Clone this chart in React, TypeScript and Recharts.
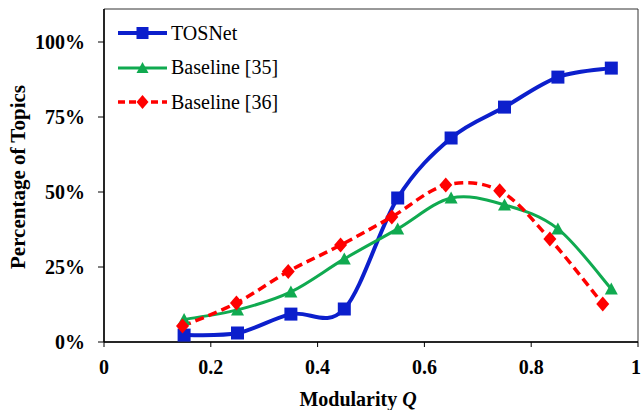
import React from "react";
import {
  LineChart,
  Line,
  XAxis,
  YAxis,
  Legend,
  Label,
  ReferenceArea,
} from "recharts";

// Modularity Q for each measured point
const tosnetQ = [0.15, 0.25, 0.35, 0.45, 0.55, 0.65, 0.75, 0.85, 0.95];
const base35Q = [0.15, 0.25, 0.35, 0.45, 0.55, 0.65, 0.75, 0.85, 0.95];
const base36Q = [0.147, 0.248, 0.345, 0.443, 0.539, 0.64, 0.741, 0.835, 0.934];

// percentage of topics (%)
const tosnetPct = [2.3, 3, 9.3, 11, 48, 68, 78.3, 88.3, 91.3];
const base35Pct = [7.5, 10.7, 16.7, 27.7, 37.7, 48, 45.7, 37.7, 17.7];
const base36Pct = [5.3, 13, 23.5, 32.3, 41.7, 52.3, 50.4, 34.3, 12.7];

const xTicks = [0, 0.2, 0.4, 0.6, 0.8, 1];
const yTicks = [0, 25, 50, 75, 100];

const BLUE = "#0C1FCC";
const GREEN = "#10AA50";
const RED = "#FF0000";
const SERIF = "Liberation Serif, DejaVu Serif, serif";

const toRows = (qs: number[], vs: number[]) => qs.map((q, i) => ({ q, v: vs[i] }));

// Excel-like smoothed line (Catmull-Rom through every point)
function smoothCurve(context: any) {
  let pts: number[][] = [];
  return {
    areaStart() {},
    areaEnd() {},
    lineStart() {
      pts = [];
    },
    point(x: number, y: number) {
      pts.push([+x, +y]);
    },
    lineEnd() {
      const n = pts.length;
      if (!n) return;
      context.moveTo(pts[0][0], pts[0][1]);
      for (let i = 0; i < n - 1; i++) {
        const p0 = pts[Math.max(i - 1, 0)];
        const p1 = pts[i];
        const p2 = pts[i + 1];
        const p3 = pts[Math.min(i + 2, n - 1)];
        context.bezierCurveTo(
          p1[0] + (p2[0] - p0[0]) / 6,
          p1[1] + (p2[1] - p0[1]) / 6,
          p2[0] - (p3[0] - p1[0]) / 6,
          p2[1] - (p3[1] - p1[1]) / 6,
          p2[0],
          p2[1]
        );
      }
    },
  };
}

const squareDot = (p: any) => (
  <rect key={"s" + p.index} x={p.cx - 6.5} y={p.cy - 6.5} width={13} height={13} fill={BLUE} />
);
const triangleDot = (p: any) => (
  <polygon
    key={"t" + p.index}
    points={`${p.cx},${p.cy - 6.5} ${p.cx + 6.5},${p.cy + 5.5} ${p.cx - 6.5},${p.cy + 5.5}`}
    fill={GREEN}
  />
);
const diamondDot = (p: any) => (
  <polygon
    key={"d" + p.index}
    points={`${p.cx},${p.cy - 7.5} ${p.cx + 6.5},${p.cy} ${p.cx},${p.cy + 7.5} ${p.cx - 6.5},${p.cy}`}
    fill={RED}
  />
);

const legendItems = [
  { name: "TOSNet", color: BLUE, dash: undefined, width: 4, marker: "square" },
  { name: "Baseline [35]", color: GREEN, dash: undefined, width: 3, marker: "triangle" },
  { name: "Baseline [36]", color: RED, dash: "7 4", width: 3.5, marker: "diamond" },
];

function LegendBox() {
  return (
    <div style={{ fontFamily: SERIF, fontSize: 20, color: "#000" }}>
      {legendItems.map((it) => (
        <div key={it.name} style={{ display: "flex", alignItems: "center", height: 34.5 }}>
          <svg width={49} height={20} style={{ marginRight: 4 }}>
            <line x1={0} y1={10} x2={49} y2={10} stroke={it.color} strokeWidth={it.width} strokeDasharray={it.dash} />
            {it.marker === "square" && <rect x={18.5} y={4} width={12} height={12} fill={it.color} />}
            {it.marker === "triangle" && <polygon points="24.5,4 30.5,15 18.5,15" fill={it.color} />}
            {it.marker === "diamond" && <polygon points="24.5,3 30.5,10 24.5,17 18.5,10" fill={it.color} />}
          </svg>
          <span>{it.name}</span>
        </div>
      ))}
    </div>
  );
}

const tickStyle = { fontSize: 20, fontWeight: 700, fill: "#000", fontFamily: SERIF };

export default function App() {
  return (
    <div style={{ position: "absolute", left: 0, top: 0, fontFamily: SERIF }}>
      <LineChart width={641} height={410} margin={{ top: 9, right: 3, bottom: 0, left: 0 }}>
        <ReferenceArea x1={0} x2={1} y1={0} y2={111} fill="none" stroke="#333" strokeWidth={1} />
        <XAxis
          type="number"
          dataKey="q"
          domain={[0, 1]}
          ticks={xTicks}
          height={68}
          tickSize={5}
          tickMargin={13}
          tick={tickStyle}
          axisLine={{ stroke: "#000", strokeWidth: 1.5 }}
          tickLine={{ stroke: "#000", strokeWidth: 1 }}
        >
          <Label
            content={(props: any) => {
              const vb = props.viewBox || { x: 104, y: 342, width: 534 };
              return (
                <text
                  x={vb.x + vb.width / 2 - 13}
                  y={vb.y + 64}
                  textAnchor="middle"
                  style={{ fontFamily: SERIF }}
                  fontSize={20}
                  fontWeight={700}
                  fill="#000"
                >
                  <tspan>Modularity </tspan>
                  <tspan fontStyle="italic">Q</tspan>
                </text>
              );
            }}
          />
        </XAxis>
        <YAxis
          type="number"
          dataKey="v"
          domain={[0, 111]}
          ticks={yTicks}
          width={104}
          tickSize={6}
          tickMargin={13}
          tick={tickStyle}
          tickFormatter={(v: number) => `${v}%`}
          axisLine={{ stroke: "#000", strokeWidth: 1.5 }}
          tickLine={{ stroke: "#000", strokeWidth: 1 }}
        >
          <Label
            content={() => (
              <text
                x={25}
                y={177}
                transform="rotate(-90, 25, 177)"
                textAnchor="middle"
                style={{ fontFamily: SERIF }}
                fontSize={21}
                fontWeight={700}
                fill="#000"
              >
                Percentage of Topics
              </text>
            )}
          />
        </YAxis>
        <Legend
          layout="vertical"
          align="center"
          verticalAlign="middle"
          wrapperStyle={{ left: 118, top: 16, width: 220, height: 110 }}
          content={() => <LegendBox />}
        />
        <Line
          data={toRows(tosnetQ, tosnetPct)}
          dataKey="v"
          name="TOSNet"
          type={smoothCurve as any}
          stroke={BLUE}
          strokeWidth={4}
          dot={squareDot}
          activeDot={false}
          isAnimationActive={false}
        />
        <Line
          data={toRows(base35Q, base35Pct)}
          dataKey="v"
          name="Baseline [35]"
          type={smoothCurve as any}
          stroke={GREEN}
          strokeWidth={3}
          dot={triangleDot}
          activeDot={false}
          isAnimationActive={false}
        />
        <Line
          data={toRows(base36Q, base36Pct)}
          dataKey="v"
          name="Baseline [36]"
          type={smoothCurve as any}
          stroke={RED}
          strokeWidth={3.5}
          strokeDasharray="9 5"
          dot={diamondDot}
          activeDot={false}
          isAnimationActive={false}
        />
      </LineChart>
    </div>
  );
}
